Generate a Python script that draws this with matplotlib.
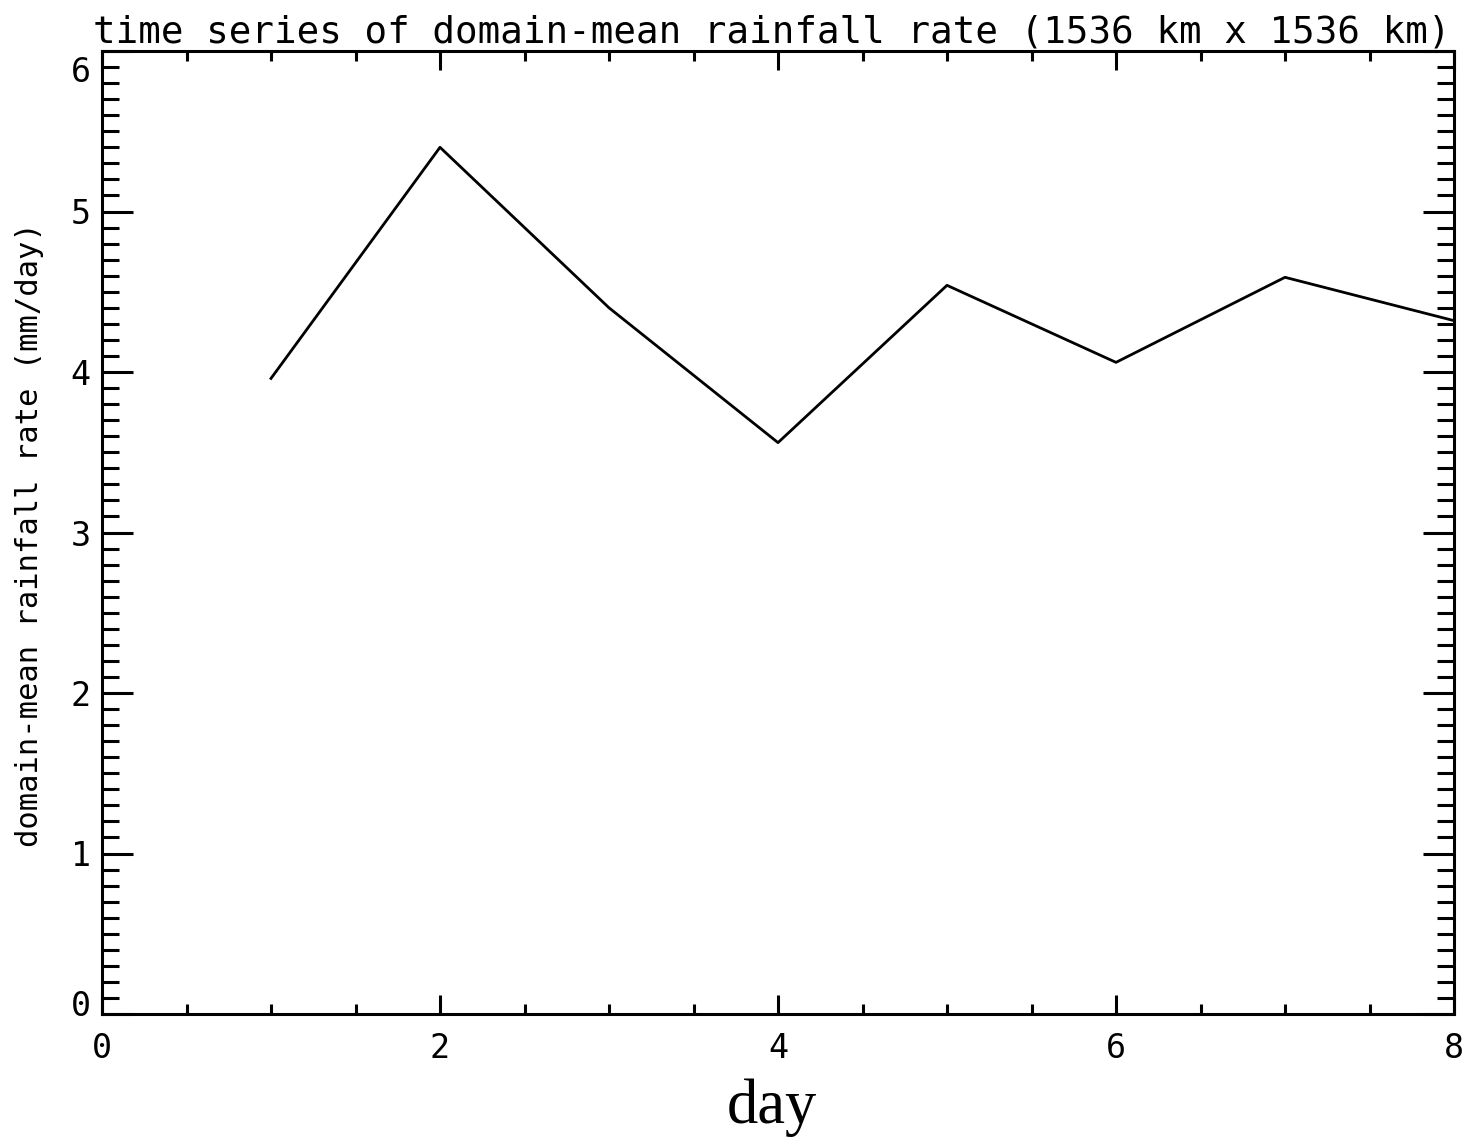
import matplotlib
matplotlib.use("Agg")
from matplotlib import pyplot as plt
from matplotlib.ticker import MultipleLocator
from matplotlib.transforms import ScaledTranslation

# daily domain-mean rainfall rate
days = [1, 2, 3, 4, 5, 6, 7, 8]
rain = [3.96, 5.40, 4.40, 3.56, 4.54, 4.06, 4.59, 4.32]

title = "time series of domain-mean rainfall rate (1536 km x 1536 km)"
ylabel = "domain-mean rainfall rate (mm/day)"
xlabel = "day"

fig = plt.figure(figsize=(14.72, 11.39), dpi=100)
ax = fig.add_axes([102 / 1472, 1 - 1014 / 1139, 1352 / 1472, 963 / 1139])

ax.plot(days, rain, color="black", lw=2.0)

ax.set_xlim(0, 8)
ax.set_ylim(0, 6)
ax.xaxis.set_major_locator(MultipleLocator(2))
ax.xaxis.set_minor_locator(MultipleLocator(0.5))
ax.yaxis.set_major_locator(MultipleLocator(1))
ax.yaxis.set_minor_locator(MultipleLocator(0.1))

mono = "DejaVu Sans Mono"
ax.tick_params(axis="both", which="both", direction="in", top=True, right=True,
               width=2.2, color="black")
ax.tick_params(axis="x", which="major", length=14, pad=13, labelsize=24)
ax.tick_params(axis="x", which="minor", length=7)
ax.tick_params(axis="y", which="major", length=22, pad=8, labelsize=24)
ax.tick_params(axis="y", which="minor", length=12.5)
for s in ax.spines.values():
    s.set_linewidth(2.2)

fig.canvas.draw()
for lab in ax.get_xticklabels() + ax.get_yticklabels():
    lab.set_fontfamily(mono)

# IDL nudges the end labels inside the box
for tick in ax.yaxis.get_major_ticks():
    lab = tick.label1
    if lab.get_text() == "0":
        lab.set_transform(lab.get_transform() + ScaledTranslation(0, 8 / 72, fig.dpi_scale_trans))
    elif lab.get_text() == "6":
        lab.set_transform(lab.get_transform() + ScaledTranslation(0, -13 / 72, fig.dpi_scale_trans))

fig.text(0.5245, 1 - 42 / 1139, title, ha="center", va="baseline",
         fontsize=27, family=mono)
fig.text(30 / 1472, 1 - 535 / 1139, ylabel, ha="center", va="center",
         rotation=90, fontsize=22, family=mono)
fig.text(772 / 1472, 1 - 1123 / 1139, xlabel, ha="center", va="baseline",
         fontsize=45, family="Liberation Serif")

fig.savefig("out.png", dpi=100)
